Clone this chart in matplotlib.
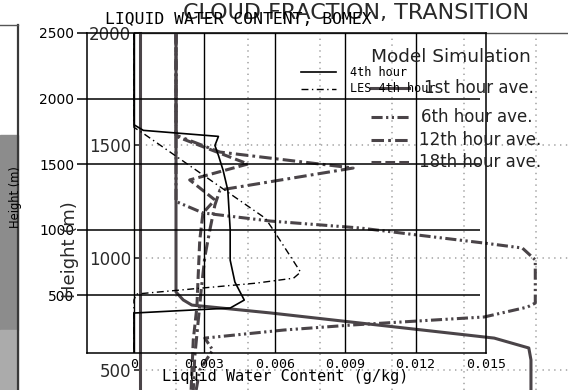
import matplotlib
matplotlib.use("Agg")
import matplotlib.pyplot as plt
from matplotlib.lines import Line2D
from matplotlib.patches import Rectangle

plt.rcParams['lines.scale_dashes'] = False

W, H = 568, 390

# ---- Liquid water content, BOMEX (foreground panel) ----
lwc_ticks = [0, 0.003, 0.006, 0.009, 0.012, 0.015]
lwc_tick_labels = ["0", "0.003", "0.006", "0.009", "0.012", "0.015"]
lwc_height_ticks = [500, 1000, 1500, 2000, 2500]

model_4h_q = [0.0, 0.0, 0.0004, 0.0036, 0.00345, 0.0036, 0.0038, 0.0040,
              0.0041, 0.0041, 0.0043, 0.0047, 0.0041, 0.0, 0.0]
model_4h_z = [2500, 1800, 1757, 1711, 1642, 1566, 1452, 1300,
              1000, 767, 600, 462, 401, 363, 58]

les_4h_q = [0.0, 0.0, 0.00034, 0.0056, 0.0060, 0.0071, 0.0068, 0.0052,
            0.0001, 0.0, 0.0]
les_4h_z = [2500, 1780, 1741, 1086, 980, 675, 629, 591, 508, 462, 58]

# ---- Cloud fraction, transition (background panel) ----
cf_height_ticks = [500, 1000, 1500, 2000]

cf_1h_f = [0.05, 0.05, 0.060, 0.072, 0.181, 0.492, 0.540, 0.543, 0.543]
cf_1h_z = [2000, 847, 812, 789, 754, 642, 598, 545, 411]

cf_6h_f = [0.05, 0.05, 0.0875, 0.181, 0.306, 0.385, 0.478, 0.531, 0.549,
           0.549, 0.538, 0.478, 0.385, 0.293, 0.200, 0.090, 0.101, 0.083, 0.078]
cf_6h_z = [2000, 1250, 1199, 1163, 1132, 1101, 1065, 1043, 990,
           798, 780, 736, 718, 700, 678, 642, 589, 500, 411]

cf_12h_f = [0.05, 0.05, 0.111, 0.296, 0.111, 0.104, 0.097, 0.090, 0.085,
            0.081, 0.076, 0.074]
cf_12h_z = [2000, 1545, 1470, 1399, 1301, 1234, 1123, 1003, 856,
            723, 558, 411]

cf_18h_f = [0.05, 0.05, 0.150, 0.069, 0.104, 0.0875, 0.083, 0.081, 0.079,
            0.074, 0.071]
cf_18h_z = [2000, 1540, 1417, 1346, 1257, 1199, 1079, 932, 780, 634, 411]

cf_labels = ["1st hour ave.", "6th hour ave.", "12th hour ave.", "18th hour ave."]


def fx(x):
    return x / W


def fy(y):
    return 1 - y / H


def box(x0, y0, x1, y1):
    return [fx(x0), fy(y1), (x1 - x0) / W, (y1 - y0) / H]


fig = plt.figure(figsize=(W / 100, H / 100), dpi=100)
fig.patch.set_facecolor("white")

# scanned strip at the far left
fig.add_artist(Rectangle((0, fy(330)), fx(18), (330 - 135) / H,
                         transform=fig.transFigure, color="#8c8c8c", zorder=0))
fig.add_artist(Rectangle((0, 0), fx(18), (390 - 330) / H,
                         transform=fig.transFigure, color="#ababab", zorder=0))
fig.add_artist(Line2D([fx(18), fx(18)], [fy(25), 0], transform=fig.transFigure,
                      color="#3a3a3a", lw=1.6, zorder=1))
fig.add_artist(Line2D([0, fx(18)], [fy(25), fy(25)], transform=fig.transFigure,
                      color="#555555", lw=1.0, zorder=1))

# ---------------- background panel ----------------
gray = "#4a4448"
bg = fig.add_axes(box(140, 33, 568, 390))
bg.patch.set_visible(False)
bg.set_xlim(0, 428 / 720)
bg.set_ylim(411, 2000)
for s in ("right", "bottom"):
    bg.spines[s].set_visible(False)
bg.spines["left"].set_color(gray)
bg.spines["left"].set_linewidth(2.2)
bg.spines["top"].set_color("#555555")
bg.spines["top"].set_linewidth(1.0)
bg.set_xticks([])
bg.set_yticks(cf_height_ticks)
bg.set_yticklabels([str(v) for v in cf_height_ticks])
bg.tick_params(axis="y", direction="out", length=4.5, width=1.4, color="#444444",
               labelsize=12, labelcolor="#2a2a2a", pad=2)
for lab in bg.get_yticklabels():
    lab.set_fontfamily("DejaVu Sans")

dot = (0, (1, 3.2))
for xv in [0.05, 0.15, 0.25, 0.35, 0.45, 0.55]:
    bg.axvline(xv, color="#a8a8a8", lw=1.2, ls=dot, zorder=0)
for yv in [500, 1000, 1500]:
    bg.axhline(yv, color="#a8a8a8", lw=1.2, ls=dot, zorder=0)

styles = [
    "-",
    (0, (8, 2.5, 1.6, 2.5, 1.6, 2.5)),
    (0, (9, 3, 2, 3)),
    (0, (7, 3)),
]
series = [(cf_1h_f, cf_1h_z), (cf_6h_f, cf_6h_z), (cf_12h_f, cf_12h_z), (cf_18h_f, cf_18h_z)]
for (f, z), ls in zip(series, styles):
    bg.plot(f, z, color=gray, lw=2.2, ls=ls, zorder=2)

fig.text(fx(356), fy(13), "CLOUD FRACTION, TRANSITION", ha="center", va="center",
         family="DejaVu Sans", fontsize=16, color="#2a2a2a")
fig.text(fx(70), fy(250), "Height (m)", ha="center", va="center", rotation=90,
         family="DejaVu Sans", fontsize=13, color="#2a2a2a")

fig.text(fx(371), fy(57), "Model Simulation", ha="left", va="center",
         family="DejaVu Sans", fontsize=13.3, color="#222222")
for lab, ls, y, x in zip(cf_labels, styles, [88, 117, 140, 162], [424, 421, 419, 419]):
    fig.add_artist(Line2D([fx(371), fx(409)], [fy(y), fy(y)], transform=fig.transFigure,
                          color=gray, lw=2.2, ls=ls))
    fig.text(fx(x), fy(y), lab, ha="left", va="center",
             family="DejaVu Sans", fontsize=12, color="#222222")

# ---------------- foreground panel ----------------
fg = fig.add_axes(box(87, 33, 486, 353))
fg.patch.set_visible(False)
fg.set_xlim(-0.002, 0.015)
fg.set_ylim(58, 2500)
for s in fg.spines.values():
    s.set_color("black")
    s.set_linewidth(1.1)

for xv in lwc_ticks[:-1]:
    fg.axvline(xv, color="black", lw=1.0, zorder=1)
fg.hlines([500, 1000, 1500, 2000], -0.002, 0.01474, color="black", lw=1.1, zorder=1)

fg.plot(model_4h_q, model_4h_z, color="black", lw=1.2, zorder=3)
fg.plot(les_4h_q, les_4h_z, color="black", lw=1.0, ls=(0, (5, 2.5, 1, 2.5)), zorder=3)

fg.set_xticks(lwc_ticks)
fg.set_xticklabels(lwc_tick_labels)
fg.tick_params(axis="x", length=0, pad=3.5, labelsize=9.5)
for lab in fg.get_xticklabels():
    lab.set_fontfamily("DejaVu Sans Mono")
fg.set_yticks(lwc_height_ticks)
fg.set_yticklabels([str(v) for v in lwc_height_ticks])
fg.tick_params(axis="y", direction="out", length=7, width=1.1, labelsize=10, pad=2)

fig.text(fx(285), fy(377), "Liquid Water Content (g/kg)", ha="center", va="center",
         family="DejaVu Sans Mono", fontsize=11)
fig.text(fx(16), fy(197), "Height (m)", ha="center", va="center", rotation=90,
         family="DejaVu Sans", fontsize=8.3)
fig.text(fx(238), fy(19), "LIQUID WATER CONTENT, BOMEX", ha="center", va="center",
         family="DejaVu Sans Mono", fontsize=11.8)

# foreground legend
fig.add_artist(Line2D([fx(301), fx(336)], [fy(72), fy(72)], transform=fig.transFigure,
                      color="black", lw=1.2))
fig.add_artist(Line2D([fx(301), fx(336)], [fy(89), fy(89)], transform=fig.transFigure,
                      color="black", lw=1.0, ls=(0, (5, 2.5, 1, 2.5))))
fig.text(fx(350), fy(72), "4th hour", ha="left", va="center",
         family="DejaVu Sans Mono", fontsize=8.5)
fig.text(fx(350), fy(89), "LES 4th hour", ha="left", va="center",
         family="DejaVu Sans Mono", fontsize=8.5)

fig.savefig("out.png", dpi=100)
